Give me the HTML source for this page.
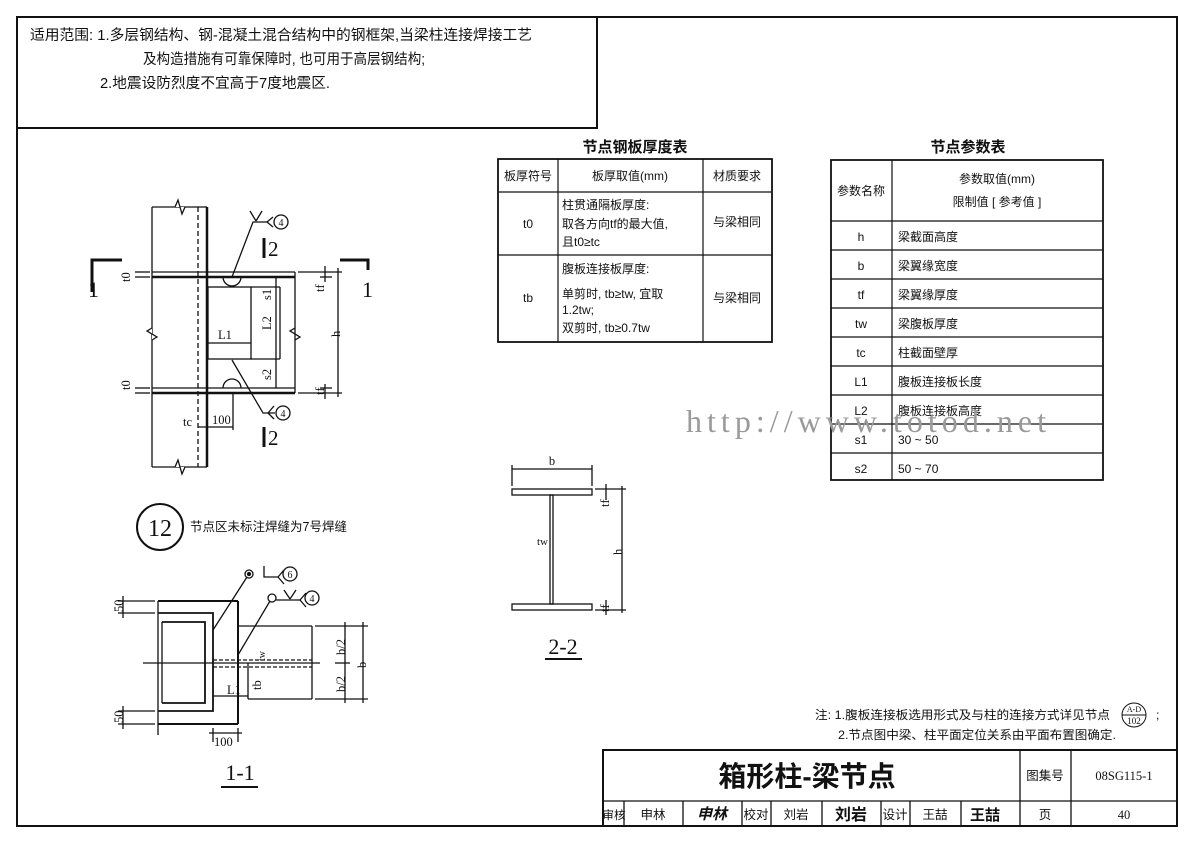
<!DOCTYPE html>
<html><head><meta charset="utf-8"><style>
html,body{margin:0;padding:0;background:#fff;}
svg{display:block;}
text{font-family:"Liberation Serif","Noto Sans CJK SC",serif;fill:#111;}
.c{font-family:"Liberation Sans","Noto Sans CJK SC",sans-serif;}
</style></head><body>
<svg width="1191" height="842" viewBox="0 0 1191 842" xmlns="http://www.w3.org/2000/svg">
<g stroke="#111" fill="none">
<rect x="17" y="17" width="1160" height="809" stroke-width="2"/>
<rect x="17" y="17" width="580" height="111" stroke-width="2"/>
</g>
<g class="c" font-size="14.5">
<text x="30" y="40" class="c" textLength="502" lengthAdjust="spacingAndGlyphs">适用范围: 1.多层钢结构、钢-混凝土混合结构中的钢框架,当梁柱连接焊接工艺</text>
<text x="143" y="64" class="c" textLength="282" lengthAdjust="spacingAndGlyphs">及构造措施有可靠保障时, 也可用于高层钢结构;</text>
<text x="100" y="88" class="c" textLength="230" lengthAdjust="spacingAndGlyphs">2.地震设防烈度不宜高于7度地震区.</text>
</g>

<!-- Table 1 -->
<text x="635" y="152" font-size="15" font-weight="bold" text-anchor="middle" class="c">节点钢板厚度表</text>
<g stroke="#111" fill="none" stroke-width="1.2">
<rect x="498" y="159" width="274" height="183" stroke-width="1.8"/>
<line x1="498" y1="192" x2="772" y2="192"/>
<line x1="498" y1="255" x2="772" y2="255"/>
<line x1="558" y1="159" x2="558" y2="342"/>
<line x1="703" y1="159" x2="703" y2="342"/>
</g>
<g class="c" font-size="12">
<text x="528" y="180" text-anchor="middle" class="c">板厚符号</text>
<text x="630" y="180" text-anchor="middle" class="c">板厚取值(mm)</text>
<text x="737" y="180" text-anchor="middle" class="c">材质要求</text>
<text x="528" y="228" text-anchor="middle" class="c">t0</text>
<text x="562" y="209" class="c">柱贯通隔板厚度:</text>
<text x="562" y="228" class="c">取各方向tf的最大值,</text>
<text x="562" y="246" class="c">且t0≥tc</text>
<text x="737" y="226" text-anchor="middle" class="c">与梁相同</text>
<text x="528" y="302" text-anchor="middle" class="c">tb</text>
<text x="562" y="273" class="c">腹板连接板厚度:</text>
<text x="562" y="298" class="c">单剪时, tb≥tw, 宜取</text>
<text x="562" y="314" class="c">1.2tw;</text>
<text x="562" y="332" class="c">双剪时, tb≥0.7tw</text>
<text x="737" y="302" text-anchor="middle" class="c">与梁相同</text>
</g>

<!-- Table 2 -->
<text x="968" y="152" font-size="15" font-weight="bold" text-anchor="middle" class="c">节点参数表</text>
<g stroke="#111" fill="none" stroke-width="1.2">
<rect x="831" y="160" width="272" height="320" stroke-width="1.8"/>
<line x1="892" y1="160" x2="892" y2="480"/>
<line x1="831" y1="221" x2="1103" y2="221"/>
<line x1="831" y1="250" x2="1103" y2="250"/>
<line x1="831" y1="279" x2="1103" y2="279"/>
<line x1="831" y1="308" x2="1103" y2="308"/>
<line x1="831" y1="337" x2="1103" y2="337"/>
<line x1="831" y1="366" x2="1103" y2="366"/>
<line x1="831" y1="395" x2="1103" y2="395"/>
<line x1="831" y1="424" x2="1103" y2="424"/>
<line x1="831" y1="453" x2="1103" y2="453"/>
</g>
<g class="c" font-size="12">
<text x="861" y="195" text-anchor="middle" class="c">参数名称</text>
<text x="997" y="183" text-anchor="middle" class="c">参数取值(mm)</text>
<text x="997" y="206" text-anchor="middle" class="c">限制值 [ 参考值 ]</text>
<text x="861" y="241" text-anchor="middle" class="c">h</text><text x="898" y="241" class="c">梁截面高度</text>
<text x="861" y="270" text-anchor="middle" class="c">b</text><text x="898" y="270" class="c">梁翼缘宽度</text>
<text x="861" y="299" text-anchor="middle" class="c">tf</text><text x="898" y="299" class="c">梁翼缘厚度</text>
<text x="861" y="328" text-anchor="middle" class="c">tw</text><text x="898" y="328" class="c">梁腹板厚度</text>
<text x="861" y="357" text-anchor="middle" class="c">tc</text><text x="898" y="357" class="c">柱截面壁厚</text>
<text x="861" y="386" text-anchor="middle" class="c">L1</text><text x="898" y="386" class="c">腹板连接板长度</text>
<text x="861" y="415" text-anchor="middle" class="c">L2</text><text x="898" y="415" class="c">腹板连接板高度</text>
<text x="861" y="444" text-anchor="middle" class="c">s1</text><text x="898" y="444" class="c">30 ~ 50</text>
<text x="861" y="473" text-anchor="middle" class="c">s2</text><text x="898" y="473" class="c">50 ~ 70</text>
</g>
<text x="686" y="432" font-size="32" style="fill:#9a9a9a" textLength="360" lengthAdjust="spacing">http://www.totod.net</text>

<!-- Drawing elevation -->
<g stroke="#111" fill="none" stroke-width="1.3">
<line x1="152" y1="207" x2="152" y2="467"/>
<line x1="198" y1="207" x2="198" y2="467" stroke-dasharray="5,3"/>
<line x1="207" y1="207" x2="207" y2="467" stroke-width="2.5"/>
<line x1="152" y1="207" x2="207" y2="207"/><line x1="152" y1="467" x2="207" y2="467"/>
<polyline points="175,207 178,200 182,214 185,207" fill="#fff"/>
<polyline points="175,467 178,460 182,474 185,467" fill="#fff"/>
<polyline points="152,328 147,331 157,337 152,340" fill="#fff"/>
<polyline points="295,328 290,331 300,337 295,340" fill="#fff"/>
<line x1="152" y1="272" x2="295" y2="272"/>
<line x1="152" y1="277" x2="295" y2="277" stroke-width="2.5"/>
<line x1="152" y1="388" x2="295" y2="388"/>
<line x1="152" y1="393" x2="295" y2="393" stroke-width="2.5"/>
<line x1="295" y1="272" x2="295" y2="393"/>
<line x1="276" y1="277" x2="276" y2="388"/>
<rect x="208" y="287" width="43" height="72"/>
<line x1="208" y1="343" x2="251" y2="343"/>
<line x1="251" y1="287" x2="280" y2="287"/>
<line x1="251" y1="359" x2="280" y2="359"/>
<path d="M223,277 A9,9 0 0 0 241,277" />
<path d="M223,388 A9,9 0 0 1 241,388" />
<polyline points="232,277 253,222 268,222"/>
<polyline points="232,360 263,413 275,413"/>
<line x1="250" y1="211" x2="256" y2="221"/><line x1="262" y1="211" x2="256" y2="221"/>
<line x1="267" y1="222" x2="273" y2="217"/><line x1="267" y1="222" x2="273" y2="227"/>
<line x1="268" y1="413" x2="274" y2="406"/><line x1="268" y1="413" x2="274" y2="419"/>
<circle cx="281" cy="222" r="7"/><circle cx="283" cy="413" r="7"/>
<line x1="298" y1="272" x2="342" y2="272"/><line x1="298" y1="393" x2="342" y2="393"/>
<line x1="338" y1="268" x2="338" y2="397"/>
<line x1="325" y1="266" x2="325" y2="282"/><line x1="325" y1="384" x2="325" y2="399"/>
<line x1="320" y1="277" x2="332" y2="277"/><line x1="320" y1="388" x2="332" y2="388"/>
<line x1="280" y1="287" x2="280" y2="359"/>
<line x1="135" y1="272" x2="150" y2="272"/><line x1="135" y1="277" x2="150" y2="277"/>
<line x1="135" y1="388" x2="150" y2="388"/><line x1="135" y1="393" x2="150" y2="393"/>
<line x1="233" y1="393" x2="233" y2="430"/>
<line x1="198" y1="427" x2="233" y2="427"/>
<polyline points="92,292 92,260 122,260" stroke-width="3"/>
<polyline points="340,260 368,260 368,270" stroke-width="3"/>
<line x1="264" y1="238" x2="264" y2="258" stroke-width="3"/>
<line x1="264" y1="427" x2="264" y2="447" stroke-width="3"/>
</g>
<g font-size="12.5">
<text x="88" y="297" font-size="22">1</text>
<text x="362" y="297" font-size="22">1</text>
<text x="268" y="256" font-size="21">2</text>
<text x="268" y="445" font-size="21">2</text>
<text x="281" y="226" font-size="10" text-anchor="middle">4</text>
<text x="283" y="417" font-size="10" text-anchor="middle">4</text>
<text x="218" y="339">L1</text>
<text transform="translate(271,330) rotate(-90)">L2</text>
<text transform="translate(271,300) rotate(-90)">s1</text>
<text transform="translate(271,380) rotate(-90)">s2</text>
<text transform="translate(340,337) rotate(-90)">h</text>
<text transform="translate(130,282) rotate(-90)">t0</text>
<text transform="translate(130,390) rotate(-90)">t0</text>
<text transform="translate(324,292) rotate(-90)">tf</text>
<text transform="translate(324,395) rotate(-90)">tf</text>
<text x="183" y="426">tc</text>
<text x="212" y="424">100</text>
</g>

<circle cx="160" cy="527" r="23" stroke="#111" stroke-width="2" fill="none"/>
<text x="160" y="536" font-size="24" text-anchor="middle">12</text>
<text x="190" y="531" font-size="12.5" class="c">节点区未标注焊缝为7号焊缝</text>

<!-- 1-1 -->
<g stroke="#111" fill="none" stroke-width="1.3">
<line x1="158" y1="601" x2="158" y2="735"/>
<line x1="158" y1="601" x2="238" y2="601" stroke-width="2"/>
<line x1="158" y1="724" x2="238" y2="724" stroke-width="2"/>
<line x1="238" y1="601" x2="238" y2="724" stroke-width="2"/>
<polyline points="158,613 213,613 213,711 158,711" stroke-width="1.8"/>
<polyline points="162,622 205,622 205,703 162,703" stroke-width="1.8"/>
<line x1="162" y1="622" x2="162" y2="703"/>
<line x1="238" y1="626" x2="312" y2="626"/>
<line x1="248" y1="699" x2="312" y2="699"/>
<line x1="312" y1="626" x2="312" y2="699"/>
<line x1="143" y1="663" x2="320" y2="663"/>
<line x1="213" y1="660" x2="312" y2="660" stroke-dasharray="4,2"/>
<line x1="213" y1="667" x2="312" y2="667" stroke-dasharray="4,2"/>
<line x1="248" y1="663" x2="248" y2="699"/>
<line x1="213" y1="696" x2="248" y2="696"/>
<line x1="315" y1="626" x2="368" y2="626"/><line x1="315" y1="699" x2="368" y2="699"/>
<line x1="345" y1="622" x2="345" y2="703"/><line x1="363" y1="622" x2="363" y2="703"/>
<line x1="335" y1="663" x2="350" y2="663"/>
<line x1="118" y1="601" x2="155" y2="601"/><line x1="118" y1="613" x2="155" y2="613"/>
<line x1="123" y1="596" x2="123" y2="618"/>
<line x1="118" y1="711" x2="155" y2="711"/><line x1="118" y1="724" x2="155" y2="724"/>
<line x1="123" y1="706" x2="123" y2="729"/>
<line x1="213" y1="728" x2="213" y2="742"/><line x1="238" y1="728" x2="238" y2="742"/>
<line x1="209" y1="733" x2="242" y2="733"/>
<circle cx="249" cy="574" r="4"/><circle cx="249" cy="574" r="1.5" fill="#111"/>
<line x1="247" y1="577" x2="213" y2="630"/>
<polyline points="264,566 264,577 278,577"/>
<line x1="278" y1="577" x2="284" y2="570"/><line x1="278" y1="577" x2="284" y2="584"/>
<circle cx="290" cy="574" r="7"/>
<circle cx="272" cy="598" r="4"/>
<line x1="270" y1="601" x2="238" y2="655"/>
<line x1="276" y1="600" x2="300" y2="600"/>
<line x1="284" y1="590" x2="290" y2="599"/><line x1="296" y1="590" x2="290" y2="599"/>
<line x1="300" y1="600" x2="306" y2="593"/><line x1="300" y1="600" x2="306" y2="607"/>
<circle cx="312" cy="598" r="7"/>
<line x1="221" y1="787" x2="258" y2="787" stroke-width="2"/>
</g>
<g font-size="12.5">
<text x="290" y="578" font-size="10" text-anchor="middle">6</text>
<text x="312" y="602" font-size="10" text-anchor="middle">4</text>
<text transform="translate(123,612) rotate(-90)">50</text>
<text transform="translate(123,723) rotate(-90)">50</text>
<text x="214" y="746">100</text>
<text x="227" y="694">L1</text>
<text transform="translate(265,661) rotate(-90)" font-size="10">tw</text>
<text transform="translate(261,690) rotate(-90)">tb</text>
<text transform="translate(345,655) rotate(-90)">b/2</text>
<text transform="translate(345,692) rotate(-90)">b/2</text>
<text transform="translate(366,668) rotate(-90)">b</text>
<text x="240" y="780" font-size="22" text-anchor="middle">1-1</text>
</g>

<!-- 2-2 -->
<g stroke="#111" fill="none" stroke-width="1.3">
<rect x="512" y="489" width="80" height="6"/>
<rect x="512" y="604" width="80" height="6"/>
<rect x="550" y="495" width="3" height="109"/>
<line x1="512" y1="465" x2="512" y2="486"/><line x1="592" y1="465" x2="592" y2="486"/>
<line x1="512" y1="469" x2="592" y2="469"/>
<line x1="595" y1="489" x2="626" y2="489"/><line x1="595" y1="610" x2="626" y2="610"/>
<line x1="622" y1="486" x2="622" y2="613"/>
<line x1="606" y1="484" x2="606" y2="500"/><line x1="606" y1="600" x2="606" y2="615"/>
<line x1="545" y1="659" x2="582" y2="659" stroke-width="2"/>
</g>
<g font-size="12.5">
<text x="552" y="465" text-anchor="middle">b</text>
<text x="537" y="545" font-size="11">tw</text>
<text transform="translate(609,507) rotate(-90)">tf</text>
<text transform="translate(609,612) rotate(-90)">tf</text>
<text transform="translate(622,555) rotate(-90)">h</text>
<text x="563" y="654" font-size="22" text-anchor="middle">2-2</text>
</g>

<!-- notes -->
<g class="c" font-size="12">
<text x="815" y="719" class="c" textLength="295" lengthAdjust="spacingAndGlyphs">注: 1.腹板连接板选用形式及与柱的连接方式详见节点</text>
<text x="838" y="739" class="c" textLength="278" lengthAdjust="spacingAndGlyphs">2.节点图中梁、柱平面定位关系由平面布置图确定.</text>
<text x="1156" y="719" class="c">;</text>
</g>
<circle cx="1134" cy="715" r="12" stroke="#111" fill="none"/>
<line x1="1122" y1="715" x2="1146" y2="715" stroke="#111"/>
<text x="1134" y="712" font-size="8" text-anchor="middle">A-D</text>
<text x="1134" y="724" font-size="9" text-anchor="middle">102</text>

<!-- title block -->
<g stroke="#111" fill="none" stroke-width="1.3">
<rect x="603" y="750" width="574" height="76" stroke-width="2"/>
<line x1="603" y1="801" x2="1177" y2="801"/>
<line x1="1020" y1="750" x2="1020" y2="826"/>
<line x1="1071" y1="750" x2="1071" y2="826"/>
<line x1="624" y1="801" x2="624" y2="826"/>
<line x1="683" y1="801" x2="683" y2="826"/>
<line x1="742" y1="801" x2="742" y2="826"/>
<line x1="771" y1="801" x2="771" y2="826"/>
<line x1="822" y1="801" x2="822" y2="826"/>
<line x1="881" y1="801" x2="881" y2="826"/>
<line x1="910" y1="801" x2="910" y2="826"/>
<line x1="961" y1="801" x2="961" y2="826"/>
</g>
<text x="807" y="786" font-size="28" text-anchor="middle" class="c" font-weight="bold">箱形柱-梁节点</text>
<g class="c" font-size="12.5">
<text x="1045" y="780" text-anchor="middle" class="c">图集号</text>
<text x="1124" y="780" text-anchor="middle" font-family="Liberation Serif">08SG115-1</text>
<text x="614" y="819" text-anchor="middle" class="c" font-size="11.5">审核</text>
<text x="653" y="819" text-anchor="middle" class="c">申林</text>
<text x="712" y="819" text-anchor="middle" class="c" font-style="italic" font-weight="bold" font-size="15">申林</text>
<text x="756" y="819" text-anchor="middle" class="c">校对</text>
<text x="796" y="819" text-anchor="middle" class="c">刘岩</text>
<text x="851" y="820" text-anchor="middle" class="c" font-weight="bold" font-size="16">刘岩</text>
<text x="895" y="819" text-anchor="middle" class="c">设计</text>
<text x="935" y="819" text-anchor="middle" class="c">王喆</text>
<text x="985" y="820" text-anchor="middle" class="c" font-weight="bold" font-size="15">王喆</text>
<text x="1045" y="819" text-anchor="middle" class="c">页</text>
<text x="1124" y="819" text-anchor="middle">40</text>
</g>
</svg>
</body></html>
